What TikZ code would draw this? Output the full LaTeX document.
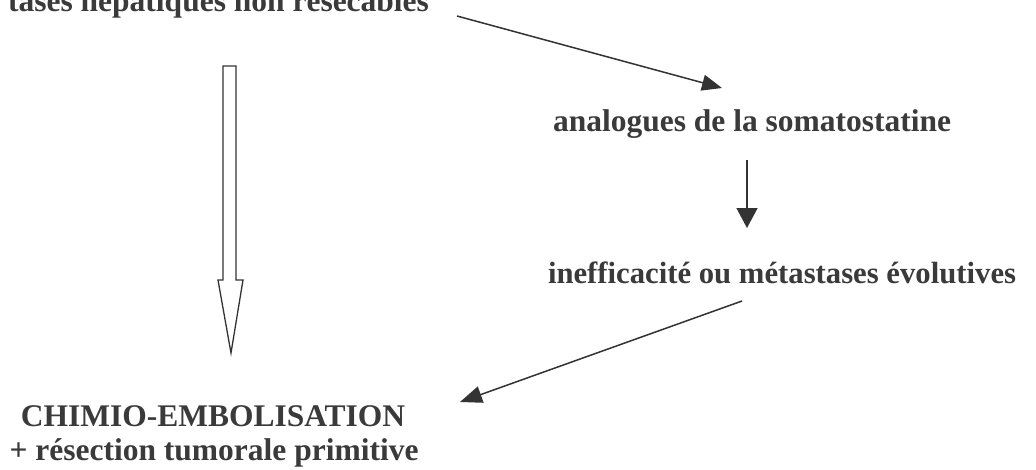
\documentclass[tikz,border=0pt]{standalone}
\usepackage{fontspec}
\setmainfont{Liberation Serif}
\usetikzlibrary{arrows.meta}
\definecolor{ink}{HTML}{3A3A3A}
\definecolor{linec}{HTML}{333333}
\begin{document}
\begin{tikzpicture}[x=1pt,y=-1pt,
  lbl/.style={inner sep=0pt, outer sep=0pt, text=ink, font=\bfseries\fontsize{31.5}{34}\selectfont},
  lblsm/.style={lbl, font=\bfseries\fontsize{30.7}{34}\selectfont},
  conn/.style={draw=linec, line width=1.5pt},
  blockarrow/.style={draw=linec, line width=1.3pt, fill=white, line join=miter}]
\useasboundingbox (0,0) rectangle (1036,469);
\fill[white] (0,0) rectangle (1036,469);
% texts
\node[lbl, anchor=base east] (top) at (429,11.5) {tases hépatiques non résécables};
\node[lbl, anchor=base west] (ana) at (553,131) {analogues de la somatostatine};
\node[lblsm, anchor=base west] (ineff) at (548,283) {inefficacité ou métastases évolutives};
\node[lbl, anchor=base] (chimio) at (213,426) {CHIMIO-EMBOLISATION};
\node[lbl, anchor=base] (resec) at (214,460) {+ résection tumorale primitive};
% connector end points
\coordinate (a1s) at (457,16);
\coordinate (a1e) at (722,88);
\coordinate (a2s) at (747,160);
\coordinate (a2e) at (747,228);
\coordinate (a3s) at (742,301);
\coordinate (a3e) at (460,402);
% connectors
\draw[conn, -{Triangle[length=20pt,width=16pt]}, fill=linec] (a1s) -- (a1e);
\draw[conn, -{Triangle[length=20pt,width=21pt]}, fill=linec] (a2s) -- (a2e);
\draw[conn, -{Triangle[length=22pt,width=17pt]}, fill=linec] (a3s) -- (a3e);
% hollow block arrow from top text to chimio
\coordinate (bs) at (229.5,66);
\draw[blockarrow] (bs) ++(-6.5,0) -- ++(13,0) -- ++(0,214) -- ++(7,0)
   -- (231,353) -- (218,280) -- (223,280) -- cycle;
\end{tikzpicture}
\end{document}
